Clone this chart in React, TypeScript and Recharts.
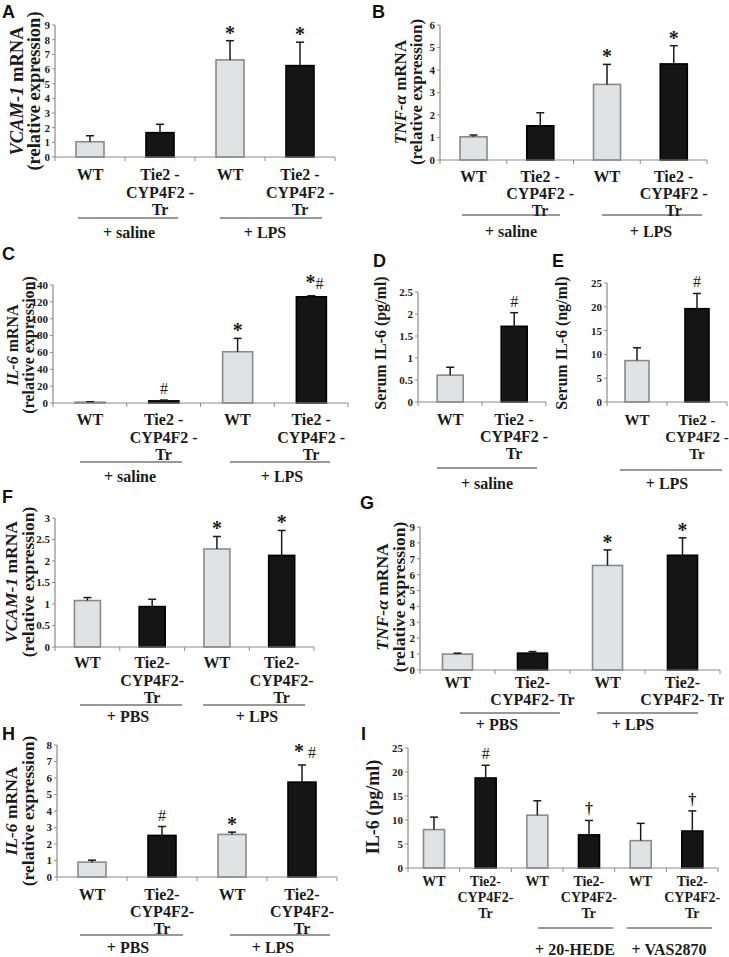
import React from "react";
import { BarChart, Bar, XAxis, YAxis } from "recharts";

const SERIF = '"Liberation Serif", "Times New Roman", serif';
const SANS = '"Liberation Sans", Arial, sans-serif';
const INK = "#1b1b1b";
const AXIS = "#8c8c8c";
const LIGHT = "#e1e2e3";
const DARK = "#151515";

// category tick labels
const wt = "WT";
const tgSpaced = "Tie2 -\nCYP4F2 -\nTr";
const tgTight = "Tie2-\nCYP4F2-\nTr";
const tgTwo = "Tie2-\nCYP4F2- Tr";

// A  VCAM-1 mRNA, saline / LPS
const catsA = [wt, tgSpaced, wt, tgSpaced];
const valsA = [1.04, 1.66, 6.62, 6.23];
const errsA = [0.41, 0.57, 1.31, 1.6];
const marksA = ["", "", "*", "*"];
const ticksA = [0, 1, 2, 3, 4, 5, 6, 7, 8, 9];

// B  TNF-a mRNA
const catsB = [wt, tgSpaced, wt, tgSpaced];
const valsB = [1.03, 1.52, 3.36, 4.27];
const errsB = [0.08, 0.58, 0.89, 0.81];
const marksB = ["", "", "*", "*"];
const ticksB = [0, 1, 2, 3, 4, 5, 6];

// C  IL-6 mRNA
const catsC = [wt, tgSpaced, wt, tgSpaced];
const valsC = [1.0, 2.5, 60.8, 126];
const errsC = [0.5, 1.0, 15.9, 1.3];
const marksC = ["", "#", "*", "*#"];
const ticksC = [0, 20, 40, 60, 80, 100, 120, 140];

// D  serum IL-6, saline
const catsD = [wt, tgSpaced];
const valsD = [0.61, 1.72];
const errsD = [0.18, 0.31];
const marksD = ["", "#"];
const ticksD = [0, 0.5, 1, 1.5, 2, 2.5];

// E  serum IL-6, LPS
const catsE = [wt, tgSpaced];
const valsE = [8.7, 19.6];
const errsE = [2.7, 3.2];
const marksE = ["", "#"];
const ticksE = [0, 5, 10, 15, 20, 25];

// F  VCAM-1 mRNA, PBS / LPS
const catsF = [wt, tgTight, wt, tgTight];
const valsF = [1.08, 0.94, 2.28, 2.13];
const errsF = [0.07, 0.17, 0.29, 0.58];
const marksF = ["", "", "*", "*"];
const ticksF = [0, 0.5, 1, 1.5, 2, 2.5, 3];

// G  TNF-a mRNA
const catsG = [wt, tgTwo, wt, tgTwo];
const valsG = [1.0, 1.06, 6.58, 7.22];
const errsG = [0.06, 0.1, 0.98, 1.1];
const marksG = ["", "", "*", "*"];
const ticksG = [0, 1, 2, 3, 4, 5, 6, 7, 8, 9];

// H  IL-6 mRNA
const catsH = [wt, tgTight, wt, tgTight];
const valsH = [0.9, 2.52, 2.58, 5.75];
const errsH = [0.12, 0.54, 0.14, 1.04];
const marksH = ["", "#", "*", "* #"];
const ticksH = [0, 1, 2, 3, 4, 5, 6, 7, 8];

// I  IL-6 protein with inhibitors
const catsI = [wt, tgTight, wt, tgTight, wt, tgTight];
const valsI = [8.0, 18.75, 11.0, 6.9, 5.7, 7.7];
const errsI = [2.6, 2.65, 3.0, 3.0, 3.6, 4.2];
const marksI = ["", "#", "", "\u2020", "", "\u2020"];
const ticksI = [0, 5, 10, 15, 20, 25];

const BarShape = (p: any) => {
  const { x, y, width, height, payload } = p;
  const per = payload.v ? height / payload.v : 0;
  const ey = y - payload.e * per;
  const cx = x + width / 2;
  const dark = payload.dark;
  const m: string = payload.m || "";
  const lift = m === "*" ? 1 : m.length > 1 ? 7 : 6;
  return (
    <g>
      <rect x={x} y={y} width={width} height={height} fill={dark ? DARK : LIGHT} stroke={dark ? "#000" : "#8a8a8a"} strokeWidth={1.6} />
      <line x1={cx} x2={cx} y1={y} y2={ey} stroke="#1a1a1a" strokeWidth={1.5} />
      <line x1={cx - 4} x2={cx + 4} y1={ey} y2={ey} stroke="#1a1a1a" strokeWidth={1.5} />
      {m ? (
        <text x={cx + (m.length > 1 ? 3 : 0)} y={ey - lift} textAnchor="middle" fontFamily={SERIF} fill={INK}>
          {m.split("").map((c, i) => (
            <tspan key={i} fontSize={c === "*" ? 20 : 16} fontWeight={c === "#" ? 400 : 700}>{c}</tspan>
          ))}
        </text>
      ) : null}
    </g>
  );
};

const CatTick = (p: any) => {
  const { x, payload, index, bw, lay, n, axisY } = p;
  const label = String(payload.value).split("|")[1] || "";
  const lines = label.split("\n");
  return (
    <g>
      <line x1={x - bw / 2} x2={x - bw / 2} y1={axisY} y2={axisY + 4} stroke={AXIS} />
      {index === n - 1 ? <line x1={x + bw / 2} x2={x + bw / 2} y1={axisY} y2={axisY + 4} stroke={AXIS} /> : null}
      <text x={x} y={axisY + lay.firstOff} textAnchor="middle" fontFamily={SERIF} fontWeight={700} fontSize={lay.catFont} fill={INK}>
        {lines.map((l: string, i: number) => (
          <tspan key={i} x={x} dy={i === 0 ? 0 : lay.lineH}>{l}</tspan>
        ))}
      </text>
    </g>
  );
};

type Lay = { ax: number; ae: number; yt: number; yb: number; catFont: number; firstOff: number; lineH: number };

function Panel({ lay, cats, vals, errs, marks, ticks }: { lay: Lay; cats: string[]; vals: number[]; errs: number[]; marks: string[]; ticks: number[] }) {
  const data = cats.map((c, i) => ({ key: i + "|" + c, v: vals[i], e: errs[i], m: marks[i], dark: i % 2 === 1 }));
  const yw = 34;
  const mt = 30;
  const mr = 4;
  const xh = 80;
  const left = lay.ax - yw;
  const top = lay.yt - mt;
  const width = lay.ae - left + mr;
  const height = lay.yb - top + xh;
  const bw = (lay.ae - lay.ax) / cats.length;
  const axisY = lay.yb - top;
  return (
    <div style={{ position: "absolute", left, top }}>
      <BarChart width={width} height={height} data={data} margin={{ top: mt, right: mr, left: 0, bottom: 0 }} barCategoryGap="30%">
        <XAxis
          dataKey="key"
          interval={0}
          height={xh}
          axisLine={{ stroke: AXIS, strokeWidth: 1.2 }}
          tickLine={false}
          tick={(tp: any) => <CatTick {...tp} bw={bw} lay={lay} n={cats.length} axisY={axisY} />}
        />
        <YAxis
          width={yw}
          domain={[0, ticks[ticks.length - 1]]}
          ticks={ticks}
          interval={0}
          tickSize={3}
          tickMargin={2}
          tickLine={{ stroke: AXIS }}
          axisLine={{ stroke: AXIS, strokeWidth: 1.2 }}
          tick={{ fontSize: 11, fontFamily: SERIF, fontWeight: 700, fill: INK }}
        />
        <Bar dataKey="v" isAnimationActive={false} shape={<BarShape />} />
      </BarChart>
    </div>
  );
}

const layA: Lay = { ax: 55, ae: 335, yt: 25, yb: 157, catFont: 16, firstOff: 23, lineH: 17.5 };
const layB: Lay = { ax: 440, ae: 707, yt: 25, yb: 160, catFont: 16, firstOff: 22, lineH: 17 };
const layC: Lay = { ax: 53, ae: 348, yt: 285, yb: 403, catFont: 16, firstOff: 22, lineH: 17.5 };
const layD: Lay = { ax: 418, ae: 546, yt: 292, yb: 402, catFont: 16, firstOff: 23, lineH: 17 };
const layE: Lay = { ax: 607, ae: 727, yt: 283, yb: 402, catFont: 15, firstOff: 23, lineH: 17 };
const layF: Lay = { ax: 55, ae: 314, yt: 518, yb: 647, catFont: 16, firstOff: 21, lineH: 17.5 };
const layG: Lay = { ax: 420, ae: 720, yt: 527, yb: 670, catFont: 16, firstOff: 18, lineH: 17 };
const layH: Lay = { ax: 57, ae: 337, yt: 745, yb: 877, catFont: 16, firstOff: 23, lineH: 17 };
const layI: Lay = { ax: 408, ae: 718, yt: 748, yb: 868, catFont: 14, firstOff: 18, lineH: 16 };

const letters = [
  { t: "A", x: 2, y: 18 },
  { t: "B", x: 372, y: 18 },
  { t: "C", x: 2, y: 260 },
  { t: "D", x: 373, y: 267 },
  { t: "E", x: 552, y: 267 },
  { t: "F", x: 2, y: 503 },
  { t: "G", x: 360, y: 509 },
  { t: "H", x: 2, y: 740 },
  { t: "I", x: 361, y: 740 },
];

// y-axis titles: italic part then plain part
const yTitles = [
  { x: 17, cy: 91, fs: 18.5, it: "VCAM-1", rest: " mRNA" },
  { x: 34, cy: 91, fs: 18.5, it: "", rest: "(relative expression)" },
  { x: 400, cy: 92, fs: 17, it: "TNF-\u03b1", rest: " mRNA" },
  { x: 416, cy: 92, fs: 17, it: "", rest: "(relative expression)" },
  { x: 12, cy: 345, fs: 16, it: "IL-6", rest: " mRNA" },
  { x: 28, cy: 345, fs: 16, it: "", rest: "(relative expression)" },
  { x: 380, cy: 343, fs: 16, it: "", rest: "Serum IL-6 (pg/ml)" },
  { x: 561, cy: 343, fs: 16, it: "", rest: "Serum IL-6 (ng/ml)" },
  { x: 11, cy: 582, fs: 17.5, it: "VCAM-1", rest: " mRNA" },
  { x: 28, cy: 582, fs: 17.5, it: "", rest: "(relative expression)" },
  { x: 382, cy: 597, fs: 17.5, it: "TNF-\u03b1", rest: " mRNA" },
  { x: 399, cy: 597, fs: 17.5, it: "", rest: "(relative expression)" },
  { x: 11, cy: 811, fs: 17.5, it: "IL-6", rest: " mRNA" },
  { x: 28, cy: 811, fs: 17.5, it: "", rest: "(relative expression)" },
  { x: 373, cy: 807, fs: 18, it: "", rest: "IL-6 (pg/ml)" },
];

// treatment groups under the x axes
const groups = [
  { x1: 78, x2: 178, y: 218, t: "+ saline", tx: 129, ty: 238 },
  { x1: 220, x2: 322, y: 218, t: "+ LPS", tx: 265, ty: 238 },
  { x1: 462, x2: 560, y: 215, t: "+ saline", tx: 511, ty: 237 },
  { x1: 602, x2: 702, y: 215, t: "+ LPS", tx: 651, ty: 237 },
  { x1: 80, x2: 182, y: 462, t: "+ saline", tx: 130, ty: 482 },
  { x1: 230, x2: 330, y: 462, t: "+ LPS", tx: 282, ty: 482 },
  { x1: 437, x2: 537, y: 468, t: "+ saline", tx: 487, ty: 489 },
  { x1: 620, x2: 722, y: 470, t: "+ LPS", tx: 667, ty: 489 },
  { x1: 80, x2: 182, y: 705, t: "+ PBS", tx: 128, ty: 722 },
  { x1: 203, x2: 305, y: 705, t: "+ LPS", tx: 257, ty: 722 },
  { x1: 460, x2: 560, y: 713, t: "+ PBS", tx: 497, ty: 730 },
  { x1: 597, x2: 698, y: 713, t: "+ LPS", tx: 633, ty: 730 },
  { x1: 80, x2: 183, y: 935, t: "+ PBS", tx: 128, ty: 953 },
  { x1: 230, x2: 330, y: 935, t: "+ LPS", tx: 273, ty: 953 },
  { x1: 538, x2: 613, y: 928, t: "+ 20-HEDE", tx: 575, ty: 955 },
  { x1: 627, x2: 712, y: 928, t: "+ VAS2870", tx: 669, ty: 955 },
];

export default function App() {
  return (
    <div style={{ position: "absolute", left: 0, top: 0, width: 729, height: 957, overflow: "hidden", background: "#fff" }}>
      <Panel lay={layA} cats={catsA} vals={valsA} errs={errsA} marks={marksA} ticks={ticksA} />
      <Panel lay={layB} cats={catsB} vals={valsB} errs={errsB} marks={marksB} ticks={ticksB} />
      <Panel lay={layC} cats={catsC} vals={valsC} errs={errsC} marks={marksC} ticks={ticksC} />
      <Panel lay={layD} cats={catsD} vals={valsD} errs={errsD} marks={marksD} ticks={ticksD} />
      <Panel lay={layE} cats={catsE} vals={valsE} errs={errsE} marks={marksE} ticks={ticksE} />
      <Panel lay={layF} cats={catsF} vals={valsF} errs={errsF} marks={marksF} ticks={ticksF} />
      <Panel lay={layG} cats={catsG} vals={valsG} errs={errsG} marks={marksG} ticks={ticksG} />
      <Panel lay={layH} cats={catsH} vals={valsH} errs={errsH} marks={marksH} ticks={ticksH} />
      <Panel lay={layI} cats={catsI} vals={valsI} errs={errsI} marks={marksI} ticks={ticksI} />
      <svg width={729} height={957} style={{ position: "absolute", left: 0, top: 0, pointerEvents: "none" }}>
        {letters.map((l) => (
          <text key={l.t} x={l.x} y={l.y} fontFamily={SANS} fontWeight={700} fontSize={18} fill="#111">{l.t}</text>
        ))}
        {yTitles.map((t, i) => (
          <text
            key={i}
            transform={`translate(${t.x},${t.cy}) rotate(-90)`}
            textAnchor="middle"
            dominantBaseline="central"
            fontFamily={SERIF}
            fontWeight={700}
            fontSize={t.fs}
            fill={INK}
          >
            {t.it ? <tspan fontStyle="italic">{t.it}</tspan> : null}
            <tspan>{t.rest}</tspan>
          </text>
        ))}
        {groups.map((g, i) => (
          <g key={i}>
            <line x1={g.x1} x2={g.x2} y1={g.y} y2={g.y} stroke="#333" strokeWidth={1.2} />
            <text x={g.tx} y={g.ty} textAnchor="middle" fontFamily={SERIF} fontWeight={700} fontSize={16} fill={INK}>{g.t}</text>
          </g>
        ))}
      </svg>
    </div>
  );
}
